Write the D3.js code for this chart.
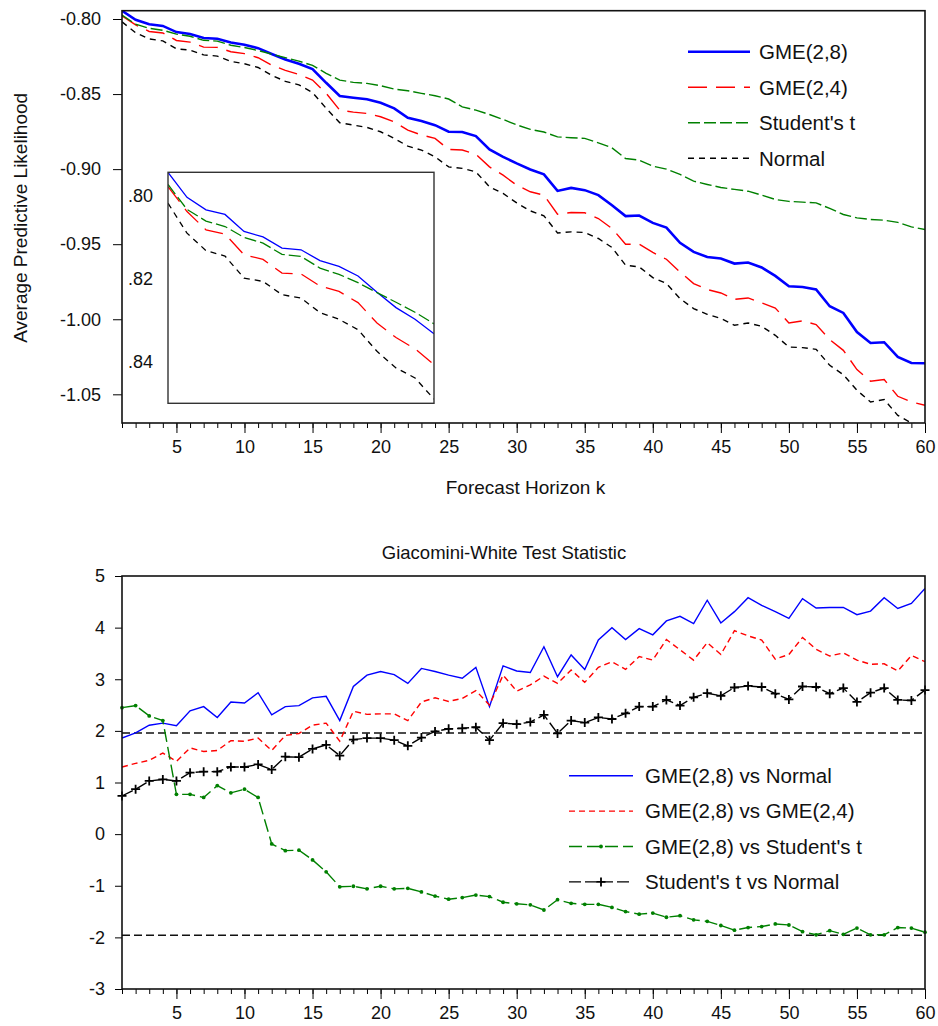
<!DOCTYPE html>
<html>
<head>
<meta charset="utf-8">
<script src="https://cdn.jsdelivr.net/npm/d3@7"></script>
<style>
  body { margin: 0; background: #fff; }
  svg text { font-family: "Liberation Sans", Arial, sans-serif; fill: #111; }
</style>
</head>
<body>
<svg id="chart" width="938" height="1026"></svg>
<script>
//
// D A T A
//
var horizons = d3.range(1, 61);

// average predictive likelihood, top panel
var gme28 = [-0.7945,-0.8005,-0.8035,-0.8046,-0.8087,-0.8100,-0.8127,-0.8131,-0.8157,-0.8171,
  -0.8194,-0.8233,-0.8270,-0.8298,-0.8333,-0.8425,-0.8513,-0.8525,-0.8535,-0.8558,
  -0.8595,-0.8658,-0.8680,-0.8707,-0.8751,-0.8753,-0.8780,-0.8869,-0.8918,-0.8962,
  -0.9002,-0.9035,-0.9145,-0.9125,-0.9140,-0.9173,-0.9240,-0.9313,-0.9309,-0.9358,
  -0.9389,-0.9491,-0.9551,-0.9585,-0.9595,-0.9629,-0.9622,-0.9655,-0.9711,-0.9780,
  -0.9785,-0.9802,-0.9913,-0.9958,-1.0085,-1.0158,-1.0153,-1.0251,-1.0291,-1.0293];
var gme24 = [-0.7979,-0.8039,-0.8083,-0.8093,-0.8143,-0.8154,-0.8187,-0.8189,-0.8218,-0.8231,
  -0.8258,-0.8307,-0.8342,-0.8369,-0.8407,-0.8495,-0.8607,-0.8620,-0.8629,-0.8651,
  -0.8685,-0.8740,-0.8773,-0.8795,-0.8869,-0.8873,-0.8900,-0.8985,-0.9040,-0.9107,
  -0.9151,-0.9173,-0.9300,-0.9289,-0.9291,-0.9329,-0.9395,-0.9500,-0.9500,-0.9555,
  -0.9600,-0.9685,-0.9762,-0.9802,-0.9825,-0.9867,-0.9858,-0.9891,-0.9925,-1.0025,
  -1.0011,-1.0035,-1.0135,-1.0207,-1.0335,-1.0413,-1.0402,-1.0513,-1.0551,-1.0573];
var studentT = [-0.7974,-0.8034,-0.8062,-0.8075,-0.8101,-0.8115,-0.8142,-0.8147,-0.8175,-0.8190,
  -0.8210,-0.8234,-0.8257,-0.8281,-0.8309,-0.8362,-0.8407,-0.8422,-0.8429,-0.8444,
  -0.8467,-0.8478,-0.8495,-0.8511,-0.8533,-0.8585,-0.8607,-0.8636,-0.8669,-0.8705,
  -0.8735,-0.8753,-0.8785,-0.8791,-0.8795,-0.8825,-0.8858,-0.8929,-0.8940,-0.8980,
  -0.9000,-0.9035,-0.9080,-0.9102,-0.9122,-0.9135,-0.9147,-0.9173,-0.9202,-0.9215,
  -0.9220,-0.9225,-0.9262,-0.9302,-0.9325,-0.9335,-0.9340,-0.9355,-0.9385,-0.9402];
var normal = [-0.8019,-0.8091,-0.8133,-0.8146,-0.8199,-0.8207,-0.8239,-0.8247,-0.8282,-0.8298,
  -0.8323,-0.8375,-0.8415,-0.8439,-0.8490,-0.8595,-0.8691,-0.8707,-0.8722,-0.8751,
  -0.8795,-0.8847,-0.8873,-0.8918,-0.8985,-0.8995,-0.9018,-0.9118,-0.9162,-0.9225,
  -0.9278,-0.9311,-0.9425,-0.9418,-0.9422,-0.9462,-0.9522,-0.9640,-0.9651,-0.9722,
  -0.9762,-0.9862,-0.9929,-0.9967,-0.9995,-1.0040,-1.0025,-1.0047,-1.0107,-1.0185,
  -1.0189,-1.0200,-1.0307,-1.0369,-1.0473,-1.0551,-1.0535,-1.0640,-1.0691,-1.0707];

// giacomini-white statistics, bottom panel
var gwNormal = [1.86,1.96,2.11,2.15,2.10,2.39,2.47,2.26,2.56,2.54,
  2.74,2.31,2.47,2.49,2.64,2.67,2.20,2.86,3.08,3.15,
  3.09,2.92,3.21,3.15,3.08,3.02,3.23,2.47,3.26,3.16,
  3.13,3.63,3.05,3.47,3.19,3.76,4.00,3.77,3.98,3.86,
  4.13,4.22,4.08,4.53,4.09,4.31,4.58,4.43,4.31,4.18,
  4.56,4.38,4.39,4.39,4.25,4.32,4.58,4.37,4.47,4.76];
var gwGme24 = [1.30,1.37,1.43,1.57,1.41,1.67,1.60,1.62,1.81,1.80,
  1.86,1.62,1.91,1.95,2.11,2.15,1.80,2.38,2.32,2.33,
  2.33,2.20,2.56,2.64,2.57,2.63,2.78,2.50,3.08,2.77,
  2.89,3.06,2.92,3.18,2.94,3.23,3.34,3.19,3.44,3.37,
  3.77,3.57,3.37,3.71,3.48,3.94,3.84,3.76,3.39,3.48,
  3.81,3.58,3.45,3.51,3.37,3.29,3.30,3.16,3.46,3.34];
var gwStudent = [2.45,2.49,2.29,2.20,0.77,0.77,0.71,0.94,0.80,0.87,
  0.71,-0.19,-0.32,-0.31,-0.50,-0.73,-1.02,-1.01,-1.06,-1.01,
  -1.06,-1.05,-1.12,-1.20,-1.26,-1.23,-1.18,-1.21,-1.32,-1.35,
  -1.37,-1.47,-1.27,-1.34,-1.36,-1.36,-1.42,-1.50,-1.55,-1.53,
  -1.61,-1.58,-1.66,-1.69,-1.77,-1.86,-1.81,-1.79,-1.74,-1.76,
  -1.89,-1.95,-1.87,-1.94,-1.82,-1.95,-1.95,-1.81,-1.82,-1.90];
var gwStudentNormal = [0.74,0.87,1.03,1.06,1.03,1.19,1.21,1.21,1.30,1.30,
  1.35,1.25,1.50,1.49,1.65,1.73,1.52,1.83,1.86,1.86,
  1.82,1.71,1.87,1.99,2.04,2.05,2.07,1.82,2.15,2.13,
  2.17,2.31,1.95,2.20,2.16,2.26,2.23,2.34,2.47,2.47,
  2.60,2.49,2.65,2.73,2.68,2.84,2.87,2.85,2.72,2.61,
  2.86,2.85,2.72,2.83,2.56,2.74,2.83,2.60,2.59,2.79];
var criticalValues = [1.96, -1.96];

// ticks
var xTicks = [5,10,15,20,25,30,35,40,45,50,55,60];
var topTicks = [-0.80,-0.85,-0.90,-0.95,-1.00,-1.05];
var insetTicks = [-0.80,-0.82,-0.84];
var insetHorizons = d3.range(1, 16);
var bottomTicks = [-3,-2,-1,0,1,2,3,4,5];

var topSeries = [
  { name: "GME(2,8)",    values: gme28,    color: "#0000ff", width: 2.6, dash: null },
  { name: "GME(2,4)",    values: gme24,    color: "#ff0000", width: 1.4, dash: "19,9" },
  { name: "Student's t", values: studentT, color: "#008000", width: 1.4, dash: "12,4" },
  { name: "Normal",      values: normal,   color: "#000000", width: 1.4, dash: "6,5" }
];
var bottomSeries = [
  { name: "GME(2,8) vs Normal",        values: gwNormal,        color: "#0000ff", dash: null,   marker: null },
  { name: "GME(2,8) vs GME(2,4)",      values: gwGme24,         color: "#ff0000", dash: "6,4",  marker: null },
  { name: "GME(2,8) vs Student's t",   values: gwStudent,       color: "#008000", dash: "13,5", marker: "dot" },
  { name: "Student's t vs Normal",     values: gwStudentNormal, color: "#000000", dash: "12,4", marker: "plus" }
];

(function(){
var svg = d3.select("#chart");
var defs = svg.append("defs");

//
// T O P   P A N E L
//
var boxA = { left: 122, right: 925, top: 10.7, bottom: 423 };
var x1 = d3.scaleLinear().domain([1, 60]).range([boxA.left, boxA.right]);
var y1 = d3.scaleLinear().domain([-1.0691, -0.79447]).range([boxA.bottom, boxA.top]);

defs.append("clipPath").attr("id", "clipTop")
  .append("rect")
    .attr("x", boxA.left).attr("y", boxA.top)
    .attr("width", boxA.right - boxA.left).attr("height", boxA.bottom - boxA.top);

var gTop = svg.append("g");

gTop.selectAll("path.series")
  .data(topSeries)
  .enter().append("path")
    .attr("class", "series")
    .attr("clip-path", "url(#clipTop)")
    .attr("fill", "none")
    .attr("stroke", function(d){ return d.color; })
    .attr("stroke-width", function(d){ return d.width; })
    .attr("stroke-dasharray", function(d){ return d.dash; })
    .attr("d", function(d){
      return d3.line()
        .x(function(v, i){ return x1(horizons[i]); })
        .y(function(v){ return y1(v); })(d.values);
    });

// axes (minor ticks every horizon, labels every 5)
gTop.append("g")
  .attr("transform", "translate(0," + boxA.bottom + ")")
  .call(d3.axisBottom(x1).tickValues(horizons).tickSize(5).tickFormat(""))
  .call(function(g){ g.select(".domain").remove(); });
gTop.append("g")
  .attr("transform", "translate(0," + boxA.bottom + ")")
  .call(d3.axisBottom(x1).tickValues(xTicks).tickSize(10).tickPadding(7).tickFormat(d3.format("d")))
  .call(function(g){ g.select(".domain").remove(); g.selectAll("text").attr("font-size", 18); });
gTop.append("g")
  .attr("transform", "translate(" + boxA.left + ",0)")
  .call(d3.axisLeft(y1).tickValues(topTicks).tickSize(9).tickPadding(12)
    .tickFormat(function(d){ return d.toFixed(2); }))
  .call(function(g){ g.select(".domain").remove(); g.selectAll("text").attr("font-size", 18); });

gTop.append("rect")
  .attr("x", boxA.left).attr("y", boxA.top)
  .attr("width", boxA.right - boxA.left).attr("height", boxA.bottom - boxA.top)
  .attr("fill", "none").attr("stroke", "#111").attr("stroke-width", 1.6);

gTop.append("text")
  .attr("transform", "translate(20," + ((boxA.top + boxA.bottom) / 2 + 1) + ") rotate(-90)")
  .attr("text-anchor", "middle")
  .attr("dy", "0.35em")
  .attr("font-size", 19)
  .text("Average Predictive Likelihood");

gTop.append("text")
  .attr("x", (boxA.left + boxA.right) / 2 + 2)
  .attr("y", 487)
  .attr("text-anchor", "middle")
  .attr("dy", "0.35em")
  .attr("font-size", 19)
  .text("Forecast Horizon k");

// legend
var legTop = gTop.selectAll("g.leg")
  .data(topSeries)
  .enter().append("g")
    .attr("class", "leg")
    .attr("transform", function(d, i){ return "translate(688," + (51.7 + i * 35.5) + ")"; });
legTop.append("line")
  .attr("x1", 0).attr("x2", 62)
  .attr("stroke", function(d){ return d.color; })
  .attr("stroke-width", function(d){ return d.width; })
  .attr("stroke-dasharray", function(d){ return d.dash; });
legTop.append("text")
  .attr("x", 71).attr("dy", "0.36em")
  .attr("font-size", 20.5)
  .text(function(d){ return d.name; });

//
// I N S E T   (first 15 horizons, zoomed)
//
var ins = { left: 168, right: 434, top: 172.3, bottom: 403.3 };
var xi = d3.scaleLinear().domain([1, 15]).range([ins.left, ins.right]);
var yi = d3.scaleLinear().domain([-0.8500, -0.79447]).range([ins.bottom, ins.top]);

defs.append("clipPath").attr("id", "clipInset")
  .append("rect")
    .attr("x", ins.left).attr("y", ins.top)
    .attr("width", ins.right - ins.left).attr("height", ins.bottom - ins.top);

var gIns = svg.append("g");
gIns.append("rect")
  .attr("x", ins.left).attr("y", ins.top)
  .attr("width", ins.right - ins.left).attr("height", ins.bottom - ins.top)
  .attr("fill", "#fff");

gIns.selectAll("path.series")
  .data(topSeries)
  .enter().append("path")
    .attr("class", "series")
    .attr("clip-path", "url(#clipInset)")
    .attr("fill", "none")
    .attr("stroke", function(d){ return d.color; })
    .attr("stroke-width", 1.3)
    .attr("stroke-dasharray", function(d){ return d.dash; })
    .attr("d", function(d){
      return d3.line()
        .x(function(v, i){ return xi(insetHorizons[i]); })
        .y(function(v){ return yi(v); })(d.values.slice(0, insetHorizons.length));
    });

gIns.append("rect")
  .attr("x", ins.left).attr("y", ins.top)
  .attr("width", ins.right - ins.left).attr("height", ins.bottom - ins.top)
  .attr("fill", "none").attr("stroke", "#333").attr("stroke-width", 1.4);

gIns.selectAll("text.itick")
  .data(insetTicks)
  .enter().append("text")
    .attr("class", "itick")
    .attr("x", 153)
    .attr("y", function(d){ return yi(d); })
    .attr("dy", "0.36em")
    .attr("text-anchor", "end")
    .attr("font-size", 18)
    .text(function(d){ return (-d).toFixed(2).replace(/^0/, ""); });

//
// B O T T O M   P A N E L
//
var boxB = { left: 122, right: 925, top: 576, bottom: 989 };
var x2 = d3.scaleLinear().domain([1, 60]).range([boxB.left, boxB.right]);
var y2 = d3.scaleLinear().domain([-3, 5]).range([boxB.bottom, boxB.top]);

defs.append("clipPath").attr("id", "clipBot")
  .append("rect")
    .attr("x", boxB.left).attr("y", boxB.top)
    .attr("width", boxB.right - boxB.left).attr("height", boxB.bottom - boxB.top);

var gBot = svg.append("g");

gBot.append("text")
  .attr("x", 504).attr("y", 553)
  .attr("text-anchor", "middle").attr("dy", "0.35em")
  .attr("font-size", 18.5)
  .text("Giacomini-White Test Statistic");

// critical values
gBot.selectAll("line.crit")
  .data(criticalValues)
  .enter().append("line")
    .attr("class", "crit")
    .attr("x1", boxB.left).attr("x2", boxB.right)
    .attr("y1", function(d){ return y2(d); })
    .attr("y2", function(d){ return y2(d); })
    .attr("stroke", "#111").attr("stroke-width", 1.4)
    .attr("stroke-dasharray", "8,4");

var line2 = d3.line()
  .x(function(v, i){ return x2(horizons[i]); })
  .y(function(v){ return y2(v); });

gBot.selectAll("path.series")
  .data(bottomSeries)
  .enter().append("path")
    .attr("class", "series")
    .attr("clip-path", "url(#clipBot)")
    .attr("fill", "none")
    .attr("stroke", function(d){ return d.color; })
    .attr("stroke-width", 1.4)
    .attr("stroke-dasharray", function(d){ return d.dash; })
    .attr("d", function(d){ return line2(d.values); });

// markers
gBot.selectAll("circle.dot")
  .data(gwStudent)
  .enter().append("circle")
    .attr("class", "dot")
    .attr("cx", function(v, i){ return x2(horizons[i]); })
    .attr("cy", function(v){ return y2(v); })
    .attr("r", 1.9)
    .attr("fill", "#008000");
gBot.selectAll("path.plus")
  .data(gwStudentNormal)
  .enter().append("path")
    .attr("class", "plus")
    .attr("transform", function(v, i){ return "translate(" + x2(horizons[i]) + "," + y2(v) + ")"; })
    .attr("d", "M-4.5,0H4.5M0,-4.5V4.5")
    .attr("stroke", "#000").attr("stroke-width", 1.8);

gBot.append("g")
  .attr("transform", "translate(0," + boxB.bottom + ")")
  .call(d3.axisBottom(x2).tickValues(horizons).tickSize(5).tickFormat(""))
  .call(function(g){ g.select(".domain").remove(); });
gBot.append("g")
  .attr("transform", "translate(0," + boxB.bottom + ")")
  .call(d3.axisBottom(x2).tickValues(xTicks).tickSize(10).tickPadding(7).tickFormat(d3.format("d")))
  .call(function(g){ g.select(".domain").remove(); g.selectAll("text").attr("font-size", 18); });
gBot.append("g")
  .attr("transform", "translate(" + boxB.left + ",0)")
  .call(d3.axisLeft(y2).tickValues(bottomTicks).tickSize(7).tickPadding(10)
    .tickFormat(function(d){ return String(d); }))
  .call(function(g){ g.select(".domain").remove(); g.selectAll("text").attr("font-size", 18); });

gBot.append("rect")
  .attr("x", boxB.left).attr("y", boxB.top)
  .attr("width", boxB.right - boxB.left).attr("height", boxB.bottom - boxB.top)
  .attr("fill", "none").attr("stroke", "#111").attr("stroke-width", 1.6);

// legend
var legBot = gBot.selectAll("g.leg")
  .data(bottomSeries)
  .enter().append("g")
    .attr("class", "leg")
    .attr("transform", function(d, i){ return "translate(569," + (775.7 + i * 35.4) + ")"; });
legBot.append("line")
  .attr("x1", 0).attr("x2", 64)
  .attr("stroke", function(d){ return d.color; })
  .attr("stroke-width", 1.4)
  .attr("stroke-dasharray", function(d){ return d.dash; });
legBot.filter(function(d){ return d.marker === "dot"; })
  .append("circle").attr("cx", 32).attr("r", 1.9).attr("fill", "#008000");
legBot.filter(function(d){ return d.marker === "plus"; })
  .append("path").attr("d", "M27.5,0H36.5M32,-4.5V4.5")
  .attr("stroke", "#000").attr("stroke-width", 1.8);
legBot.append("text")
  .attr("x", 76).attr("dy", "0.36em")
  .attr("font-size", 20.5)
  .text(function(d){ return d.name; });
})();
</script>
</body>
</html>
